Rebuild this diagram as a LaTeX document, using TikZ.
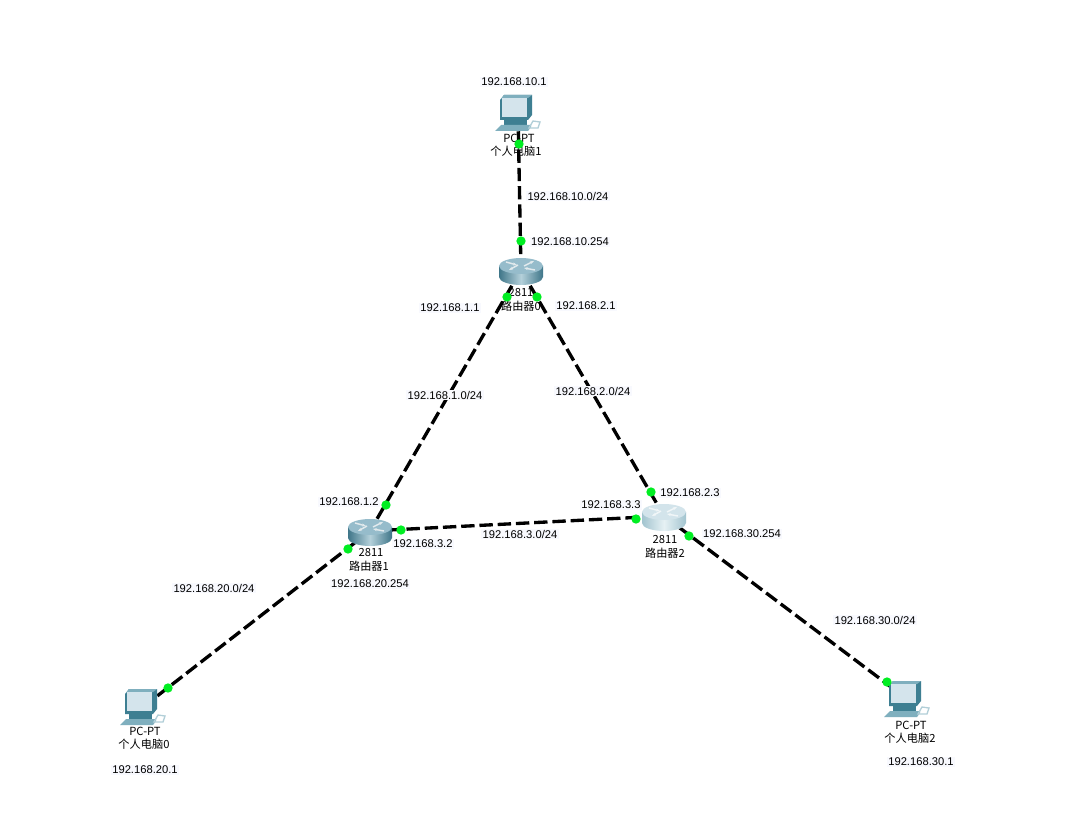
\documentclass[tikz,border=0pt]{standalone}
\usepackage{fontspec}
\setmainfont{Liberation Sans}
\newfontfamily\cjk{Noto Sans CJK SC}
\usepackage{xcolor}
\usetikzlibrary{positioning, arrows.meta}

\definecolor{portgreen}{HTML}{00EE22}
\definecolor{addrback}{HTML}{F8F9FE}
\definecolor{pcdark}{HTML}{3E7F92}
\definecolor{pcmid}{HTML}{7FAFBE}
\definecolor{pcscreen}{HTML}{D4E4EC}
\definecolor{routerdark}{HTML}{3F7689}
\definecolor{routerlight}{HTML}{B4D0DA}
\definecolor{routertop}{HTML}{96BCCB}
\definecolor{paledark}{HTML}{A2C4CF}
\definecolor{palelight}{HTML}{E6F1F4}
\definecolor{paletop}{HTML}{D3E4EB}

\tikzset{
  pics/pcicon/.style={code={
    \fill[pcdark] (-18,-13) -- (-14,-18) -- (14,-18) -- (14,2) -- (10,7) -- (-18,7) -- cycle;
    \fill[pcmid] (-18,-13) -- (-14,-18) -- (14,-18) -- (10,-15) -- (-16,-15) -- cycle;
    \fill[pcscreen] (-16,-15) -- (9,-15) -- (9,4) -- (-16,4) -- cycle;
    \fill[pcdark] (-14,7) -- (9,7) -- (9,12) -- (-14,12) -- cycle;
    \fill[pcmid] (-23,18) -- (-17,12) -- (13,12) -- (13,14) -- (10,18) -- cycle;
    \draw[pcmid!60, line width=1pt] (11,15) -- (15,8) -- (22,9) -- (20,15) -- cycle;
  }},
  pics/routericon/.style n args={3}{code={
    \shade[left color=#1, right color=#1, middle color=#2]
      (-22,-4) -- (-22,7) arc[start angle=180, end angle=0, x radius=22, y radius=8]
      -- (22,-4) -- cycle;
    \fill[#3] (0,-4) ellipse[x radius=22, y radius=8];
    \draw[white!85!#1, line width=1.1pt, -{Stealth[length=3pt]}]
      (-15,-8) -- (-4,-5);
    \draw[white!85!#1, line width=1.1pt, -{Stealth[length=3pt]}]
      (3,-4) -- (13,-9);
    \draw[white!85!#1, line width=1.1pt, -{Stealth[length=3pt]}]
      (-3,-5) -- (-12,0);
    \draw[white!85!#1, line width=1.1pt, -{Stealth[length=3pt]}]
      (14,0) -- (3,-2);
  }},
  link/.style={line width=2.5pt, dash pattern=on 10pt off 3.7pt},
  port/.style={circle, fill=portgreen, inner sep=0pt, minimum size=7pt},
  addr/.style={fill=addrback, inner sep=1pt, font=\fontsize{8.4pt}{10pt}\selectfont},
  caption/.style={inner sep=0pt, font=\fontsize{8.4pt}{10pt}\selectfont\cjk}
}

\begin{document}
\begin{tikzpicture}[x=0.75pt, y=-0.75pt]
  \useasboundingbox[fill=white] (0,0) rectangle (1072,838);

  \coordinate (pc0) at (143,707);
  \coordinate (pc1) at (518,113);
  \coordinate (pc2) at (907,699);
  \coordinate (router0) at (521,270);
  \coordinate (router1) at (370,531);
  \coordinate (router2) at (664,516);

  % device captions
  \node[caption] (pc1type) at (519,138) {PC-PT};
  \node[caption] (pc1name) at (516,151) {个人电脑1};
  \node[caption] (router0type) at (521,293) {2811};
  \node[caption] (router0name) at (521,306) {路由器0};
  \node[caption] (router1type) at (371,553) {2811};
  \node[caption] (router1name) at (369,566) {路由器1};
  \node[caption] (router2type) at (665,540) {2811};
  \node[caption] (router2name) at (665,553) {路由器2};
  \node[caption] (pc0type) at (145,731) {PC-PT};
  \node[caption] (pc0name) at (144,744) {个人电脑0};
  \node[caption] (pc2type) at (911,725) {PC-PT};
  \node[caption] (pc2name) at (910,738) {个人电脑2};

  % links
  \draw[link] (pc1) -- (router0);
  \draw[link] (router0) -- (router1);
  \draw[link] (router0) -- (router2);
  \draw[link] (router1) -- (router2);
  \draw[link] (router1) -- (pc0);
  \draw[link] (router2) -- (pc2);

  % icons
  \pic at (pc0) {pcicon};
  \pic at (pc1) {pcicon};
  \pic at (pc2) {pcicon};
  \pic at (router0) {routericon={routerdark}{routerlight}{routertop}};
  \pic at (router1) {routericon={routerdark}{routerlight}{routertop}};
  \pic at (router2) {routericon={paledark}{palelight}{paletop}};

  % ports
  \node[port] (p1) at (519,144) {};
  \node[port] (p2) at (521,241) {};
  \node[port] (p3) at (507,297) {};
  \node[port] (p4) at (537,297) {};
  \node[port] (p5) at (386,505) {};
  \node[port] (p6) at (651,492) {};
  \node[port] (p7) at (401,530) {};
  \node[port] (p8) at (636,519) {};
  \node[port] (p9) at (348,549) {};
  \node[port] (p10) at (168,688) {};
  \node[port] (p11) at (689,536) {};
  \node[port] (p12) at (887,682) {};

  % addresses
  \node[addr] (a1) at (514,82) {192.168.10.1};
  \node[addr] (a2) at (568,196) {192.168.10.0/24};
  \node[addr] (a3) at (570,242) {192.168.10.254};
  \node[addr] (a4) at (450,308) {192.168.1.1};
  \node[addr] (a5) at (586,306) {192.168.2.1};
  \node[addr] (a6) at (445,395) {192.168.1.0/24};
  \node[addr] (a7) at (593,391) {192.168.2.0/24};
  \node[addr] (a8) at (349,502) {192.168.1.2};
  \node[addr] (a9) at (690,493) {192.168.2.3};
  \node[addr] (a10) at (611,505) {192.168.3.3};
  \node[addr] (a11) at (423,544) {192.168.3.2};
  \node[addr] (a12) at (520,534) {192.168.3.0/24};
  \node[addr] (a13) at (742,534) {192.168.30.254};
  \node[addr] (a14) at (214,588) {192.168.20.0/24};
  \node[addr] (a15) at (370,584) {192.168.20.254};
  \node[addr] (a16) at (875,620) {192.168.30.0/24};
  \node[addr] (a17) at (145,770) {192.168.20.1};
  \node[addr] (a18) at (921,762) {192.168.30.1};
\end{tikzpicture}
\end{document}
